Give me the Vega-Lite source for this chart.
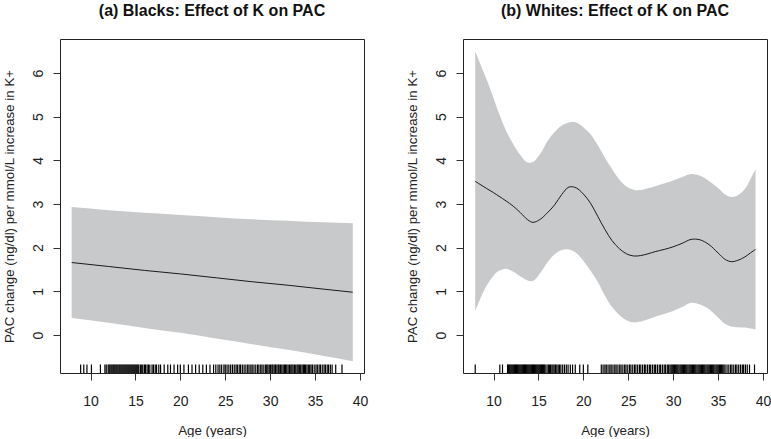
{
  "$schema": "https://vega.github.io/schema/vega-lite/v6.json",
  "background": "white",
  "padding": {"left": 1, "top": 2, "right": 3, "bottom": 0},
  "spacing": 99,
  "bounds": "flush",
  "config": {
    "font": "Liberation Sans",
    "view": {"stroke": "#222", "strokeWidth": 1},
    "axis": {
      "grid": false,
      "domain": false,
      "tickColor": "#333",
      "tickSize": 7,
      "labelFont": "Liberation Sans",
      "labelFontSize": 14,
      "labelColor": "#222",
      "titleFont": "Liberation Sans",
      "titleFontSize": 13.3,
      "titleFontWeight": "normal",
      "titleColor": "#222"
    },
    "axisX": {"labelPadding": 14, "titlePadding": 15},
    "axisY": {"labelAngle": -90, "labelAlign": "center", "labelBaseline": "alphabetic", "labelPadding": 11, "titlePadding": 15},
    "title": {"font": "Liberation Sans", "fontSize": 16, "fontWeight": "bold", "color": "#111", "offset": 20}
  },
  "datasets": {
    "curvesB": [
      {"age": 7.9, "fit": 1.66, "lo": 0.39, "hi": 2.93},
      {"age": 12, "fit": 1.57, "lo": 0.28, "hi": 2.86},
      {"age": 16, "fit": 1.48, "lo": 0.16, "hi": 2.80},
      {"age": 20, "fit": 1.40, "lo": 0.05, "hi": 2.75},
      {"age": 24, "fit": 1.31, "lo": -0.08, "hi": 2.70},
      {"age": 28, "fit": 1.22, "lo": -0.21, "hi": 2.65},
      {"age": 32, "fit": 1.14, "lo": -0.34, "hi": 2.62},
      {"age": 36, "fit": 1.05, "lo": -0.48, "hi": 2.58},
      {"age": 39.2, "fit": 0.98, "lo": -0.60, "hi": 2.56}
    ],
    "curvesW": [
      {"age": 7.96, "fit": 3.52, "lo": 0.55, "hi": 6.50},
      {"age": 8.5, "fit": 3.45, "lo": 0.82, "hi": 6.22},
      {"age": 9.2, "fit": 3.36, "lo": 1.12, "hi": 5.87},
      {"age": 10.0, "fit": 3.26, "lo": 1.36, "hi": 5.43},
      {"age": 10.6, "fit": 3.18, "lo": 1.47, "hi": 5.08},
      {"age": 11.4, "fit": 3.07, "lo": 1.52, "hi": 4.68},
      {"age": 12.2, "fit": 2.95, "lo": 1.45, "hi": 4.37},
      {"age": 13.0, "fit": 2.80, "lo": 1.34, "hi": 4.12},
      {"age": 13.8, "fit": 2.64, "lo": 1.25, "hi": 3.95},
      {"age": 14.4, "fit": 2.58, "lo": 1.24, "hi": 3.96},
      {"age": 15.2, "fit": 2.65, "lo": 1.42, "hi": 4.15},
      {"age": 16.0, "fit": 2.80, "lo": 1.66, "hi": 4.44},
      {"age": 16.8, "fit": 2.98, "lo": 1.85, "hi": 4.65},
      {"age": 17.6, "fit": 3.22, "lo": 1.95, "hi": 4.80},
      {"age": 18.4, "fit": 3.39, "lo": 1.96, "hi": 4.87},
      {"age": 19.2, "fit": 3.37, "lo": 1.88, "hi": 4.87},
      {"age": 20.0, "fit": 3.23, "lo": 1.70, "hi": 4.76},
      {"age": 20.8, "fit": 3.02, "lo": 1.47, "hi": 4.60},
      {"age": 21.6, "fit": 2.72, "lo": 1.22, "hi": 4.35},
      {"age": 22.4, "fit": 2.42, "lo": 0.90, "hi": 4.06},
      {"age": 23.2, "fit": 2.16, "lo": 0.64, "hi": 3.80},
      {"age": 24.0, "fit": 1.98, "lo": 0.46, "hi": 3.56},
      {"age": 24.8, "fit": 1.86, "lo": 0.34, "hi": 3.40},
      {"age": 25.6, "fit": 1.81, "lo": 0.29, "hi": 3.33},
      {"age": 26.4, "fit": 1.82, "lo": 0.31, "hi": 3.32},
      {"age": 27.2, "fit": 1.86, "lo": 0.36, "hi": 3.36},
      {"age": 28.0, "fit": 1.91, "lo": 0.42, "hi": 3.41},
      {"age": 29.0, "fit": 1.96, "lo": 0.48, "hi": 3.47},
      {"age": 30.0, "fit": 2.02, "lo": 0.55, "hi": 3.54},
      {"age": 31.0, "fit": 2.10, "lo": 0.64, "hi": 3.62},
      {"age": 32.0, "fit": 2.19, "lo": 0.74, "hi": 3.69},
      {"age": 33.0, "fit": 2.18, "lo": 0.70, "hi": 3.65},
      {"age": 34.0, "fit": 2.07, "lo": 0.59, "hi": 3.53},
      {"age": 35.0, "fit": 1.88, "lo": 0.40, "hi": 3.37},
      {"age": 35.8, "fit": 1.73, "lo": 0.25, "hi": 3.22},
      {"age": 36.5, "fit": 1.68, "lo": 0.19, "hi": 3.16},
      {"age": 37.2, "fit": 1.71, "lo": 0.18, "hi": 3.20},
      {"age": 38.0, "fit": 1.79, "lo": 0.17, "hi": 3.35},
      {"age": 38.6, "fit": 1.88, "lo": 0.15, "hi": 3.57},
      {"age": 39.17, "fit": 1.96, "lo": 0.13, "hi": 3.79}
    ],
    "rugB": [
      {"age": 8.9}, {"age": 9.25}, {"age": 9.6}, {"age": 10.1}, {"age": 11.1}, {"age": 11.6}, {"age": 11.75},
      {"age": 11.96}, {"age": 12.07}, {"age": 12.17}, {"age": 12.29}, {"age": 12.4}, {"age": 12.52}, {"age": 12.62}, {"age": 12.73}, {"age": 12.84}, {"age": 12.95}, {"age": 13.06}, {"age": 13.18}, {"age": 13.28}, {"age": 13.39}, {"age": 13.5}, {"age": 13.61}, {"age": 13.72}, {"age": 13.83}, {"age": 13.94}, {"age": 14.05}, {"age": 14.16}, {"age": 14.27}, {"age": 14.38}, {"age": 14.49}, {"age": 14.6}, {"age": 14.71}, {"age": 14.82}, {"age": 14.93}, {"age": 15.04}, {"age": 15.15}, {"age": 15.26}, {"age": 15.37},
      {"age": 15.55}, {"age": 15.7}, {"age": 15.82}, {"age": 16.0}, {"age": 16.12}, {"age": 16.3}, {"age": 16.45}, {"age": 16.6}, {"age": 16.85}, {"age": 17.0}, {"age": 17.2}, {"age": 17.35}, {"age": 17.6}, {"age": 17.8},
      {"age": 18.2}, {"age": 18.6}, {"age": 18.9}, {"age": 19.3}, {"age": 19.7}, {"age": 20.0}, {"age": 20.4}, {"age": 20.9}, {"age": 21.3}, {"age": 21.7}, {"age": 22.1}, {"age": 22.5}, {"age": 22.9}, {"age": 23.3},
      {"age": 23.7}, {"age": 23.95}, {"age": 24.2}, {"age": 24.4}, {"age": 24.6}, {"age": 24.85}, {"age": 25.0}, {"age": 25.2}, {"age": 25.4}, {"age": 25.6}, {"age": 25.8}, {"age": 26.0}, {"age": 26.2}, {"age": 26.35}, {"age": 26.55}, {"age": 26.7}, {"age": 26.9}, {"age": 27.1}, {"age": 27.3}, {"age": 27.5}, {"age": 27.65}, {"age": 27.85}, {"age": 28.0}, {"age": 28.2}, {"age": 28.4}, {"age": 28.6}, {"age": 28.75}, {"age": 28.95}, {"age": 29.1}, {"age": 29.3},
      {"age": 29.5}, {"age": 29.62}, {"age": 29.75}, {"age": 29.9}, {"age": 30.05}, {"age": 30.2}, {"age": 30.3}, {"age": 30.45}, {"age": 30.6}, {"age": 30.75}, {"age": 30.9}, {"age": 31.0}, {"age": 31.15}, {"age": 31.3}, {"age": 31.45}, {"age": 31.6}, {"age": 31.72}, {"age": 31.85}, {"age": 32.0}, {"age": 32.15}, {"age": 32.3}, {"age": 32.42}, {"age": 32.55}, {"age": 32.7}, {"age": 32.85}, {"age": 33.0}, {"age": 33.12}, {"age": 33.25}, {"age": 33.4}, {"age": 33.55}, {"age": 33.7}, {"age": 33.82}, {"age": 33.95}, {"age": 34.1}, {"age": 34.25}, {"age": 34.4}, {"age": 34.55}, {"age": 34.7},
      {"age": 34.9}, {"age": 35.1}, {"age": 35.25}, {"age": 35.45}, {"age": 35.6}, {"age": 35.8}, {"age": 36.0}, {"age": 36.15}, {"age": 36.35}, {"age": 36.5}, {"age": 36.7}, {"age": 36.9},
      {"age": 37.3}, {"age": 38.0}
    ],
    "rugW": [
      {"age": 7.96}, {"age": 10.7}, {"age": 11.0},
      {"age": 11.56}, {"age": 11.65}, {"age": 11.75}, {"age": 11.85}, {"age": 11.95}, {"age": 12.05}, {"age": 12.15}, {"age": 12.25}, {"age": 12.35}, {"age": 12.45}, {"age": 12.55}, {"age": 12.65}, {"age": 12.75}, {"age": 12.85}, {"age": 12.95}, {"age": 13.05}, {"age": 13.15}, {"age": 13.25}, {"age": 13.35}, {"age": 13.45}, {"age": 13.55}, {"age": 13.65}, {"age": 13.75}, {"age": 13.85}, {"age": 13.95}, {"age": 14.05}, {"age": 14.15}, {"age": 14.25}, {"age": 14.35}, {"age": 14.45}, {"age": 14.55}, {"age": 14.65}, {"age": 14.75}, {"age": 14.85}, {"age": 14.95}, {"age": 15.05}, {"age": 15.15}, {"age": 15.25}, {"age": 15.35}, {"age": 15.45}, {"age": 15.55}, {"age": 15.65}, {"age": 15.75},
      {"age": 15.95}, {"age": 16.1}, {"age": 16.22}, {"age": 16.35}, {"age": 16.5}, {"age": 16.62}, {"age": 16.75}, {"age": 16.9}, {"age": 17.05}, {"age": 17.2}, {"age": 17.35}, {"age": 17.5}, {"age": 17.7}, {"age": 17.9}, {"age": 18.1}, {"age": 18.3}, {"age": 18.55}, {"age": 18.8}, {"age": 19.1},
      {"age": 19.6}, {"age": 20.0}, {"age": 20.5},
      {"age": 22.0}, {"age": 22.2}, {"age": 22.4}, {"age": 22.55}, {"age": 22.75}, {"age": 22.95}, {"age": 23.1}, {"age": 23.3}, {"age": 23.5}, {"age": 23.65}, {"age": 23.85}, {"age": 24.05}, {"age": 24.2}, {"age": 24.4}, {"age": 24.6}, {"age": 24.75}, {"age": 24.95}, {"age": 25.15}, {"age": 25.3}, {"age": 25.5}, {"age": 25.7}, {"age": 25.85}, {"age": 26.05}, {"age": 26.25}, {"age": 26.4}, {"age": 26.6}, {"age": 26.8}, {"age": 26.95}, {"age": 27.15}, {"age": 27.35}, {"age": 27.5}, {"age": 27.7}, {"age": 27.9}, {"age": 28.05}, {"age": 28.25}, {"age": 28.45}, {"age": 28.6}, {"age": 28.8}, {"age": 29.0}, {"age": 29.15}, {"age": 29.35}, {"age": 29.5},
      {"age": 29.65}, {"age": 29.78}, {"age": 29.9}, {"age": 30.02}, {"age": 30.15}, {"age": 30.28}, {"age": 30.4}, {"age": 30.52}, {"age": 30.65}, {"age": 30.78}, {"age": 30.9}, {"age": 31.02}, {"age": 31.15}, {"age": 31.28}, {"age": 31.4}, {"age": 31.52}, {"age": 31.65}, {"age": 31.78}, {"age": 31.9}, {"age": 32.02}, {"age": 32.15}, {"age": 32.28}, {"age": 32.4}, {"age": 32.52}, {"age": 32.65}, {"age": 32.78}, {"age": 32.9}, {"age": 33.02}, {"age": 33.15}, {"age": 33.28}, {"age": 33.4}, {"age": 33.52}, {"age": 33.65}, {"age": 33.78}, {"age": 33.9}, {"age": 34.02}, {"age": 34.15}, {"age": 34.28}, {"age": 34.4}, {"age": 34.52}, {"age": 34.65}, {"age": 34.78}, {"age": 34.9}, {"age": 35.02}, {"age": 35.15}, {"age": 35.28}, {"age": 35.4}, {"age": 35.52}, {"age": 35.65}, {"age": 35.78},
      {"age": 36.0}, {"age": 36.2}, {"age": 36.4}, {"age": 36.55}, {"age": 36.75}, {"age": 36.95}, {"age": 37.1}, {"age": 37.3}, {"age": 37.5}, {"age": 37.7}, {"age": 37.85}, {"age": 38.05}, {"age": 38.25}, {"age": 38.5},
      {"age": 39.06}
    ]
  },
  "hconcat": [
    {
      "width": 304,
      "height": 334,
      "title": "(a) Blacks: Effect of K on PAC",
      "layer": [
        {
          "data": {"name": "curvesB"},
          "mark": {"type": "area", "color": "#c8c9cb", "opacity": 1, "interpolate": "monotone"},
          "encoding": {
            "x": {"field": "age", "type": "quantitative", "scale": {"domain": [6.6, 40.45], "nice": false, "zero": false}, "axis": {"values": [10, 15, 20, 25, 30, 35, 40], "title": "Age (years)"}},
            "y": {"field": "lo", "type": "quantitative", "scale": {"domain": [-0.87, 6.78], "nice": false, "zero": false}, "axis": {"values": [0, 1, 2, 3, 4, 5, 6], "title": "PAC change (ng/dl) per mmol/L increase in K+"}},
            "y2": {"field": "hi"}
          }
        },
        {
          "data": {"name": "curvesB"},
          "mark": {"type": "line", "color": "#1a1a1a", "strokeWidth": 1, "interpolate": "monotone"},
          "encoding": {
            "x": {"field": "age", "type": "quantitative"},
            "y": {"field": "fit", "type": "quantitative"}
          }
        },
        {
          "data": {"name": "rugB"},
          "mark": {"type": "rule", "color": "#000", "strokeWidth": 1.2},
          "encoding": {
            "x": {"field": "age", "type": "quantitative"},
            "y": {"datum": -0.87},
            "y2": {"datum": -0.675}
          }
        }
      ]
    },
    {
      "width": 304,
      "height": 334,
      "title": "(b) Whites: Effect of K on PAC",
      "layer": [
        {
          "data": {"name": "curvesW"},
          "mark": {"type": "area", "color": "#c8c9cb", "opacity": 1, "interpolate": "catmull-rom"},
          "encoding": {
            "x": {"field": "age", "type": "quantitative", "scale": {"domain": [6.6, 40.45], "nice": false, "zero": false}, "axis": {"values": [10, 15, 20, 25, 30, 35, 40], "title": "Age (years)"}},
            "y": {"field": "lo", "type": "quantitative", "scale": {"domain": [-0.87, 6.78], "nice": false, "zero": false}, "axis": {"values": [0, 1, 2, 3, 4, 5, 6], "title": "PAC change (ng/dl) per mmol/L increase in K+"}},
            "y2": {"field": "hi"}
          }
        },
        {
          "data": {"name": "curvesW"},
          "mark": {"type": "line", "color": "#1a1a1a", "strokeWidth": 1, "interpolate": "catmull-rom"},
          "encoding": {
            "x": {"field": "age", "type": "quantitative"},
            "y": {"field": "fit", "type": "quantitative"}
          }
        },
        {
          "data": {"name": "rugW"},
          "mark": {"type": "rule", "color": "#000", "strokeWidth": 1.2},
          "encoding": {
            "x": {"field": "age", "type": "quantitative"},
            "y": {"datum": -0.87},
            "y2": {"datum": -0.675}
          }
        }
      ]
    }
  ]
}
